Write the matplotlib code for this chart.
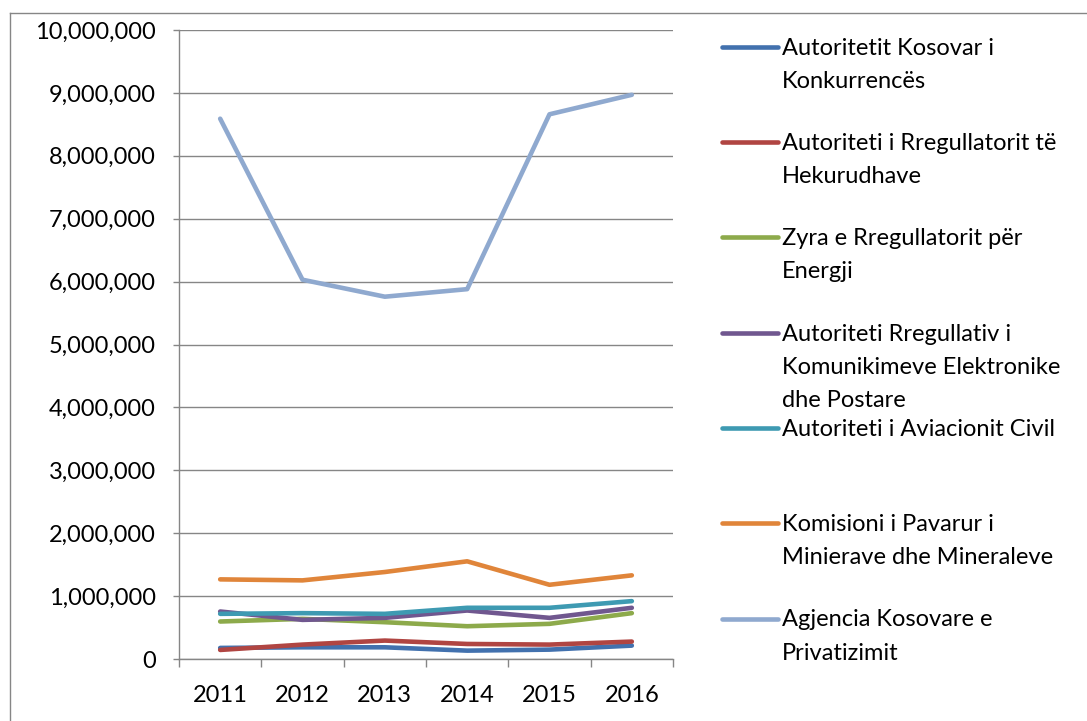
import matplotlib
matplotlib.use("Agg")
import matplotlib.pyplot as plt
from matplotlib.lines import Line2D
from matplotlib.ticker import FuncFormatter, MultipleLocator, FixedLocator

plt.rcParams['font.family'] = ['Lato', 'DejaVu Sans']

years = ["2011", "2012", "2013", "2014", "2015", "2016"]

series_names = [
    "Autoritetit Kosovar i\nKonkurrencës",
    "Autoriteti i Rregullatorit të\nHekurudhave",
    "Zyra e Rregullatorit për\nEnergji",
    "Autoriteti Rregullativ i\nKomunikimeve Elektronike\ndhe Postare",
    "Autoriteti i Aviacionit Civil",
    "Komisioni i Pavarur i\nMinierave dhe Mineraleve",
    "Agjencia Kosovare e\nPrivatizimit",
]

konkurrences = [176000, 186000, 186000, 133000, 149000, 213000]
hekurudhave = [144000, 229000, 293000, 239000, 229000, 277000]
energji = [596000, 638000, 585000, 521000, 559000, 729000]
komunikimeve = [755000, 622000, 654000, 771000, 654000, 814000]
aviacionit = [718000, 729000, 718000, 814000, 814000, 920000]
minierave = [1266000, 1250000, 1383000, 1553000, 1180000, 1330000]
privatizimit = [8590000, 6030000, 5760000, 5880000, 8660000, 8970000]

values = [konkurrences, hekurudhave, energji, komunikimeve, aviacionit, minierave, privatizimit]
colors = ["#4271AE", "#B04542", "#8DAA4B", "#70578F", "#3E9AB2", "#E0853A", "#8FA9CF"]

W, H = 1087, 721
fig = plt.figure(figsize=(W / 100, H / 100), dpi=100)

def fx(px):
    return px / W

def fy(py):
    return 1 - py / H

ax = fig.add_axes([fx(179), fy(659), fx(673) - fx(179), fy(30) - fy(659)])

x = list(range(len(years)))
for vals, col in zip(values, colors):
    ax.plot(x, vals, color=col, lw=3.3, solid_capstyle='round', solid_joinstyle='round', zorder=3)

grid_col = "#868686"
ax.set_xlim(-0.5, len(years) - 0.5)
ax.set_ylim(0, 10000000)
ax.yaxis.set_major_locator(MultipleLocator(1000000))
ax.yaxis.set_major_formatter(FuncFormatter(lambda v, p: f"{int(round(v)):,}"))
ax.grid(axis='y', color=grid_col, lw=1.0, zorder=1)
ax.set_axisbelow(True)

ax.set_xticks(x)
ax.set_xticklabels(years)
ax.xaxis.set_minor_locator(FixedLocator([i - 0.5 for i in range(len(years) + 1)]))
ax.tick_params(axis='x', which='major', length=0, pad=19, labelsize=17)
ax.tick_params(axis='x', which='minor', length=5.5, width=1.0, color=grid_col, direction='out')
ax.tick_params(axis='y', which='major', length=4.5, width=1.0, color=grid_col, pad=12, labelsize=17)

for s in ['top', 'right']:
    ax.spines[s].set_visible(False)
for s in ['left', 'bottom']:
    ax.spines[s].set_color(grid_col)
    ax.spines[s].set_linewidth(1.0)

# manual legend
y0 = 46.7
step = 95.3
line_gap = 33
for k, (name, col) in enumerate(zip(series_names, colors)):
    hy = y0 + k * step
    fig.add_artist(Line2D([fx(722), fx(778)], [fy(hy), fy(hy)], color=col, lw=3.3,
                          solid_capstyle='round'))
    for i, line in enumerate(name.split("\n")):
        fig.text(fx(782), fy(hy + 8 + i * line_gap), line, fontsize=17,
                 ha='left', va='baseline', color='black')

# outer chart border (left and top)
fig.add_artist(Line2D([fx(10), fx(10)], [fy(13), 0], color=grid_col, lw=1.0))
fig.add_artist(Line2D([fx(10), 1], [fy(13), fy(13)], color=grid_col, lw=1.0))

fig.savefig("out.png", dpi=100)
